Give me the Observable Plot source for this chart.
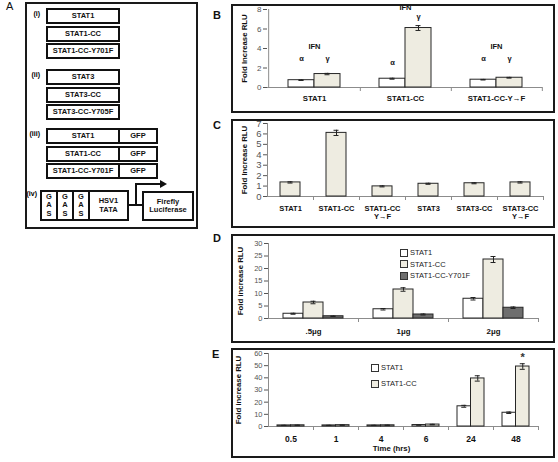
<!DOCTYPE html>
<html><head><meta charset="utf-8">
<script src="https://cdn.jsdelivr.net/npm/d3@7"></script>
<script src="https://cdn.jsdelivr.net/npm/@observablehq/plot@0.6"></script>
<style>
body{margin:0;background:#fff;}
#fig{position:relative;width:558px;height:462px;background:#fff;font-family:"Liberation Sans",Arial,sans-serif;overflow:hidden;color:#111;}
.panel{position:absolute;border:2px solid #1a1a1a;box-sizing:border-box;pointer-events:none;}
.plab{position:absolute;font-size:11px;font-weight:bold;line-height:11px;}
.bx{position:absolute;box-sizing:border-box;border:2px solid #111;display:flex;align-items:center;justify-content:center;text-align:center;font-weight:bold;font-size:7.5px;line-height:8.5px;white-space:pre;background:#fff;}
.rl{position:absolute;font-weight:bold;font-size:7px;width:14px;text-align:right;color:#000;}
.plotwrap{position:absolute;}
.plotwrap svg{overflow:visible;}
.leg{position:absolute;font-size:7.5px;color:#222;display:flex;align-items:center;white-space:nowrap;}
.sw{width:6px;height:6px;border:1px solid #333;margin-right:2px;}
</style>
</head><body>
<div id="fig"></div>
<script>
// ---------------- data ----------------
// Panel A (constructs)
const aRowsI = ["STAT1", "STAT1-CC", "STAT1-CC-Y701F"];
const aRowsII = ["STAT3", "STAT3-CC", "STAT3-CC-Y705F"];
const aRowsIII = ["STAT1", "STAT1-CC", "STAT1-CC-Y701F"];
const aTag = "GFP";
const aGas = ["G\nA\nS", "G\nA\nS", "G\nA\nS"];
const aPromoter = "HSV1\nTATA";
const aReporter = "Firefly\nLuciferase";

// Panel B
const bGroups = ["STAT1", "STAT1-CC", "STAT1-CC-Y\u2192F"];
const bSeries = ["\u03b1", "\u03b3"];
const bAlpha = [0.75, 0.9, 0.8];
const bAlphaErr = [0.03, 0.05, 0.03];
const bGamma = [1.38, 6.1, 1.0];
const bGammaErr = [0.07, 0.25, 0.04];
const bTicks = [0, 2, 4, 6, 8];
const bIfnLabelY = [4.2, 8.15, 4.2];
const bAlphaLabelY = [3.0, 2.6, 3.0];
const bGammaLabelY = [3.0, 7.3, 3.0];

// Panel C
const cGroups = ["STAT1", "STAT1-CC", "STAT1-CC\nY\u2192F", "STAT3", "STAT3-CC", "STAT3-CC\nY\u2192F"];
const cValues = [1.35, 6.1, 0.97, 1.22, 1.27, 1.35];
const cErrors = [0.06, 0.25, 0.05, 0.05, 0.05, 0.06];
const cTicks = [0, 1, 2, 3, 4, 5, 6, 7];

// Panel D
const dGroups = [".5\u03bcg", "1\u03bcg", "2\u03bcg"];
const dSeries = ["STAT1", "STAT1-CC", "STAT1-CC-Y701F"];
const dStat1 = [1.9, 3.7, 7.9];
const dStat1Err = [0.2, 0.3, 0.5];
const dStat1CC = [6.4, 11.6, 23.6];
const dStat1CCErr = [0.5, 0.7, 1.2];
const dY701F = [0.9, 1.6, 4.3];
const dY701FErr = [0.1, 0.2, 0.3];
const dTicks = [0, 5, 10, 15, 20, 25, 30];

// Panel E
const eGroups = ["0.5", "1", "4", "6", "24", "48"];
const eSeries = ["STAT1", "STAT1-CC"];
const eStat1 = [0.9, 0.9, 0.9, 1.2, 16.6, 11.3];
const eStat1Err = [0.1, 0.1, 0.1, 0.1, 0.8, 0.6];
const eStat1CC = [1.0, 1.1, 1.0, 1.6, 39.5, 49.3];
const eStat1CCErr = [0.1, 0.1, 0.1, 0.2, 2.2, 2.3];
const eTicks = [0, 10, 20, 30, 40, 50, 60];
const eStarGroup = "48";

// ---------------- styles ----------------
const WHITE = "#ffffff", BEIGE = "#eeece1", DARK = "#6e6e6e", AXIS = "#8c8c8c";
const FONT = "'Liberation Sans', Arial, sans-serif";

const fig = document.getElementById("fig");
function add(cls, css, text) {
  const e = document.createElement("div");
  e.className = cls;
  Object.assign(e.style, css);
  if (text != null) e.textContent = text;
  fig.appendChild(e);
  return e;
}
const px = v => v + "px";

// ---------------- Panel A (schematic) ----------------
add("plab", {left: px(6), top: px(1), fontWeight: "normal"}, "A");
add("panel", {left: px(25), top: px(2), width: px(173), height: px(227)});
const aGroupsLayout = [
  {label: "(i)", rows: aRowsI, top: 8, tag: false},
  {label: "(ii)", rows: aRowsII, top: 69, tag: false},
  {label: "(iii)", rows: aRowsIII, top: 128, tag: true}
];
aGroupsLayout.forEach(gr => {
  add("rl", {left: px(26), top: px(gr.top + 2)}, gr.label);
  gr.rows.forEach((r, i) => {
    const top = gr.top + Math.round(i * 17.5);
    const b = add("bx", {left: px(46), top: px(top), width: px(gr.tag ? 112 : 74), height: px(16), justifyContent: "flex-start"});
    const m = document.createElement("div");
    m.textContent = r;
    Object.assign(m.style, {width: px(70), textAlign: "center"});
    b.appendChild(m);
    if (gr.tag) {
      const t = document.createElement("div");
      t.textContent = aTag;
      Object.assign(t.style, {borderLeft: "2px solid #111", height: "100%", flex: "1", display: "flex", alignItems: "center", justifyContent: "center"});
      b.appendChild(t);
    }
  });
});
add("rl", {left: px(23), top: px(190)}, "(iv)");
aGas.forEach((g, i) => add("bx", {left: px(40 + i * 16), top: px(190), width: px(18), height: px(31)}, g));
add("bx", {left: px(88), top: px(190), width: px(41), height: px(31)}, aPromoter);
add("bx", {left: px(142), top: px(191), width: px(52), height: px(30)}, aReporter);
(function () {
  const ns = "http://www.w3.org/2000/svg";
  const s = document.createElementNS(ns, "svg");
  s.setAttribute("width", 558); s.setAttribute("height", 462);
  Object.assign(s.style, {position: "absolute", left: "0", top: "0", pointerEvents: "none"});
  s.innerHTML = '<path d="M128,205H142M136,205V184H161" fill="none" stroke="#111" stroke-width="2"/>' +
    '<path d="M160,180L167,184L160,188Z" fill="#111"/>';
  fig.appendChild(s);
})();

// ---------------- bar panel helper (category slots, bars centred) ----------------
function barPanel(o) {
  const n = o.groups.length, k = o.series.length;
  const W = o.width - o.ml - o.mr;
  const step = W / n;
  const w = o.barW;
  const bw = w * k;
  const pad = 1 - bw / step;
  const H = o.height - o.mt - o.mb;
  const unit = H / (o.yDomain[1] - o.yDomain[0]);
  const tl = 4 / unit;
  const half = step / 2;
  const rows = [];
  o.series.forEach((s, si) => o.groups.forEach((g, gi) => rows.push({g, s, si, v: o.values[si][gi], e: o.errors[si][gi]})));
  const marks = [];
  marks.push(Plot.ruleY([0], {stroke: AXIS}));
  marks.push(Plot.ruleX([o.groups[0]], {dx: -half, y1: o.yDomain[0], y2: o.yDomain[1], stroke: AXIS}));
  marks.push(Plot.ruleX(o.groups, {dx: half, y1: 0, y2: -tl, stroke: AXIS}));
  o.series.forEach((s, si) => {
    const sub = rows.filter(r => r.si === si);
    marks.push(Plot.barY(sub, {x: "g", y: "v", fill: o.fills[si], stroke: "#262626", strokeWidth: 1,
      insetLeft: si * w, insetRight: (k - 1 - si) * w}));
    const dx = (si + 0.5) * w - bw / 2;
    const ci = (w - 5) / 2;
    marks.push(Plot.ruleX(sub, {x: "g", y1: d => d.v - d.e, y2: d => d.v + d.e, dx, stroke: "#222"}));
    marks.push(Plot.tickY(sub, {x: "g", y: d => d.v + d.e, insetLeft: si * w + ci, insetRight: (k - 1 - si) * w + ci, stroke: "#222"}));
    marks.push(Plot.tickY(sub, {x: "g", y: d => d.v - d.e, insetLeft: si * w + ci, insetRight: (k - 1 - si) * w + ci, stroke: "#222"}));
  });
  marks.push(Plot.axisY(o.yTicks, {tickSize: 4, tickPadding: 2, fontSize: o.yFont, color: "#555", label: null}));
  marks.push(Plot.axisX({tickSize: 0, tickPadding: o.xPad, fontSize: o.xFont, fontWeight: "bold", label: null, color: "#111", lineHeight: 1.05}));
  marks.push(Plot.text([o.yTitle], {frameAnchor: "left", rotate: -90, dx: o.titleDx, fontWeight: "bold", fontSize: 7.8, textAnchor: "middle", fill: "#111"}));
  if (o.extra) marks.push(...o.extra({w, bw, step}));
  const p = Plot.plot({
    width: o.width, height: o.height,
    marginTop: o.mt, marginBottom: o.mb, marginLeft: o.ml, marginRight: o.mr,
    x: {type: "band", domain: o.groups, paddingInner: pad, paddingOuter: pad / 2},
    y: {domain: o.yDomain},
    style: {fontFamily: FONT, background: "transparent", overflow: "visible"},
    marks
  });
  const wrap = document.createElement("div");
  wrap.className = "plotwrap";
  Object.assign(wrap.style, {left: px(o.left), top: px(o.top), width: px(o.width), height: px(o.height)});
  wrap.appendChild(p);
  fig.appendChild(wrap);
  add("panel", {left: px(o.left), top: px(o.top), width: px(o.width), height: px(o.height)});
}

// ---------------- Panel B ----------------
add("plab", {left: px(213), top: px(10)}, "B");
barPanel({
  left: 231, top: 4, width: 324, height: 109, mt: 5, mb: 26, ml: 36, mr: 13,
  groups: bGroups, series: bSeries, values: [bAlpha, bGamma], errors: [bAlphaErr, bGammaErr],
  fills: [WHITE, BEIGE], barW: 26, yDomain: [0, 8], yTicks: bTicks, yFont: 8, xFont: 7.8, xPad: 8,
  yTitle: "Fold Increase RLU", titleDx: -23,
  extra: ({w}) => [
    Plot.text(bGroups, {x: d => d, y: (d, i) => bIfnLabelY[i], text: () => "IFN", fontWeight: "bold", fontSize: 7.5, fill: "#111"}),
    Plot.text(bGroups, {x: d => d, y: (d, i) => bAlphaLabelY[i], text: () => bSeries[0], dx: -w / 2, fontWeight: "bold", fontSize: 7.5, fill: "#111"}),
    Plot.text(bGroups, {x: d => d, y: (d, i) => bGammaLabelY[i], text: () => bSeries[1], dx: w / 2, fontWeight: "bold", fontSize: 7.5, fill: "#111"})
  ]
});

// ---------------- Panel C ----------------
add("plab", {left: px(213), top: px(120)}, "C");
barPanel({
  left: 231, top: 119, width: 324, height: 109, mt: 4, mb: 32, ml: 36, mr: 12,
  groups: cGroups, series: ["value"], values: [cValues], errors: [cErrors],
  fills: [BEIGE], barW: 20, yDomain: [0, 7], yTicks: cTicks, yFont: 9.5, xFont: 7.5, xPad: 9,
  yTitle: "Fold Increase RLU", titleDx: -23
});

// ---------------- Panel D ----------------
add("plab", {left: px(213), top: px(233)}, "D");
barPanel({
  left: 231, top: 234, width: 324, height: 109, mt: 9, mb: 25, ml: 37, mr: 17,
  groups: dGroups, series: dSeries, values: [dStat1, dStat1CC, dY701F], errors: [dStat1Err, dStat1CCErr, dY701FErr],
  fills: [WHITE, BEIGE, DARK], barW: 20, yDomain: [0, 30], yTicks: dTicks, yFont: 7.5, xFont: 7.8, xPad: 10,
  yTitle: "Fold increase RLU", titleDx: -28
});
dSeries.forEach((s, i) => {
  const l = add("leg", {left: px(400), top: px(248 + i * 11.5)});
  const sw = document.createElement("div"); sw.className = "sw"; sw.style.background = [WHITE, BEIGE, DARK][i];
  l.appendChild(sw); l.appendChild(document.createTextNode(s));
});

// ---------------- Panel E ----------------
add("plab", {left: px(212), top: px(349)}, "E");
barPanel({
  left: 231, top: 348, width: 324, height: 110, mt: 5, mb: 32, ml: 37, mr: 17,
  groups: eGroups, series: eSeries, values: [eStat1, eStat1CC], errors: [eStat1Err, eStat1CCErr],
  fills: [WHITE, BEIGE], barW: 13.5, yDomain: [0, 60], yTicks: eTicks, yFont: 7.5, xFont: 8.5, xPad: 9,
  yTitle: "Fold increase RLU", titleDx: -30,
  extra: ({w}) => [
    Plot.text([eStarGroup], {x: d => d, y: d => eStat1CC[eGroups.indexOf(d)] + eStat1CCErr[eGroups.indexOf(d)], text: () => "*", dx: w / 2, dy: -6, fontSize: 11, fontWeight: "bold", fill: "#333"}),
    Plot.text(["Time (hrs)"], {frameAnchor: "bottom", dy: 24, dx: -12, fontWeight: "bold", fontSize: 7.8, fill: "#111"})
  ]
});
eSeries.forEach((s, i) => {
  const l = add("leg", {left: px(371), top: px(363 + i * 16)});
  const sw = document.createElement("div"); sw.className = "sw"; sw.style.background = [WHITE, BEIGE][i];
  l.appendChild(sw); l.appendChild(document.createTextNode(s));
});
</script>
</body></html>
